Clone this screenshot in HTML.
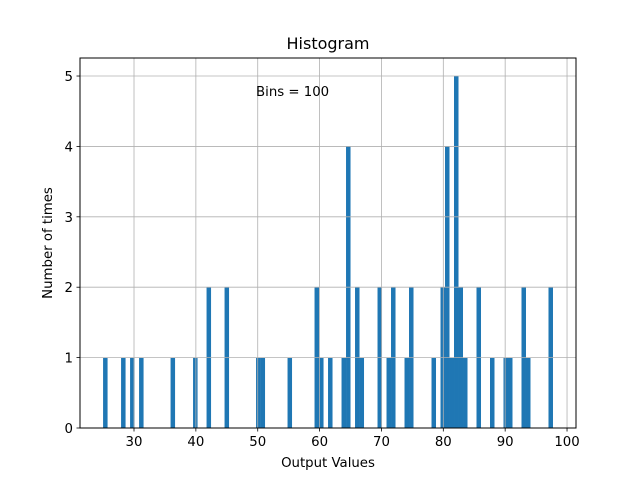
<!DOCTYPE html>
<html><head><meta charset="utf-8"><style>
body{margin:0;background:#fff;}
svg text{font-family:"DejaVu Sans","Liberation Sans",sans-serif;}
</style></head><body>
<svg id="chart" width="640" height="480" viewBox="0 0 640 480">
<rect width="640" height="480" fill="#fff"/>
<g id="bars"></g>
<g id="grid"></g>
<rect x="80" y="58" width="496" height="370" fill="none" stroke="#000" stroke-width="1"/>
<g id="xticks"></g>
<g id="yticks"></g>
<text x="328" y="49" font-size="16" text-anchor="middle">Histogram</text>
<text x="328" y="467" font-size="13.3" text-anchor="middle">Output Values</text>
<text transform="translate(52,243) rotate(-90)" font-size="13.3" text-anchor="middle">Number of times</text>
<text x="256" y="96" font-size="13.3">Bins = 100</text>
</svg>
<script>
const binStart = 25.0;
const binEnd = 97.73;
const counts = [1,0,0,0,1,0,1,0,1,0, 0,0,0,0,0,1,0,0,0,0, 1,0,0,2,0,0,0,2,0,0,
0,0,0,0,1,1,0,0,0,0, 0,1,0,0,0,0,0,2,1,0, 1,0,0,1,4,0,2,1,0,0,
0,2,0,1,2,0,0,1,2,0, 0,0,0,1,0,2,4,1,5,2, 1,0,0,2,0,0,1,0,0,1, 1,0,0,2,1,0,0,0,0,2];
const xTicks = [30,40,50,60,70,80,90,100];
const yTicks = [0,1,2,3,4,5];
const X0=80,X1=576,Y0=428,Y1=58, xMin=21.27, xMax=101.45, yMin=0, yMax=5.256;
const sx=v=>X0+(v-xMin)/(xMax-xMin)*(X1-X0);
const sy=v=>Y0-(v-yMin)/(yMax-yMin)*(Y0-Y1);
const NS="http://www.w3.org/2000/svg";
const mk=(t,a,p)=>{const e=document.createElementNS(NS,t);for(const k in a)e.setAttribute(k,a[k]);p.appendChild(e);return e;};
const bw=(binEnd-binStart)/counts.length;
const bars=document.getElementById('bars');
counts.forEach((c,i)=>{ if(!c) return;
  const x=sx(binStart+i*bw), x2=sx(binStart+(i+1)*bw);
  const r=mk('rect',{x:x,y:sy(c),width:x2-x,height:sy(0)-sy(c),fill:'#1f77b4'},bars);
  
  
});
const grid=document.getElementById('grid'), xt=document.getElementById('xticks'), yt=document.getElementById('yticks');
xTicks.forEach(v=>{const x=sx(v);
  mk('line',{x1:x,x2:x,y1:Y1,y2:Y0,stroke:'#b0b0b0','stroke-width':0.8},grid);
  mk('line',{x1:x,x2:x,y1:Y0,y2:Y0+3.5,stroke:'#000','stroke-width':0.8},xt);
  const t=mk('text',{x:x,y:Y0+18,'font-size':13.3,'text-anchor':'middle'},xt);t.textContent=v;
  
  
});
yTicks.forEach(v=>{const y=sy(v);
  mk('line',{x1:X0,x2:X1,y1:y,y2:y,stroke:'#b0b0b0','stroke-width':0.8},grid);
  mk('line',{x1:X0-3.5,x2:X0,y1:y,y2:y,stroke:'#000','stroke-width':0.8},yt);
  const t=mk('text',{x:X0-7,y:y+5,'font-size':13.3,'text-anchor':'end'},yt);t.textContent=v;
  
  
});
</script>
</body></html>
